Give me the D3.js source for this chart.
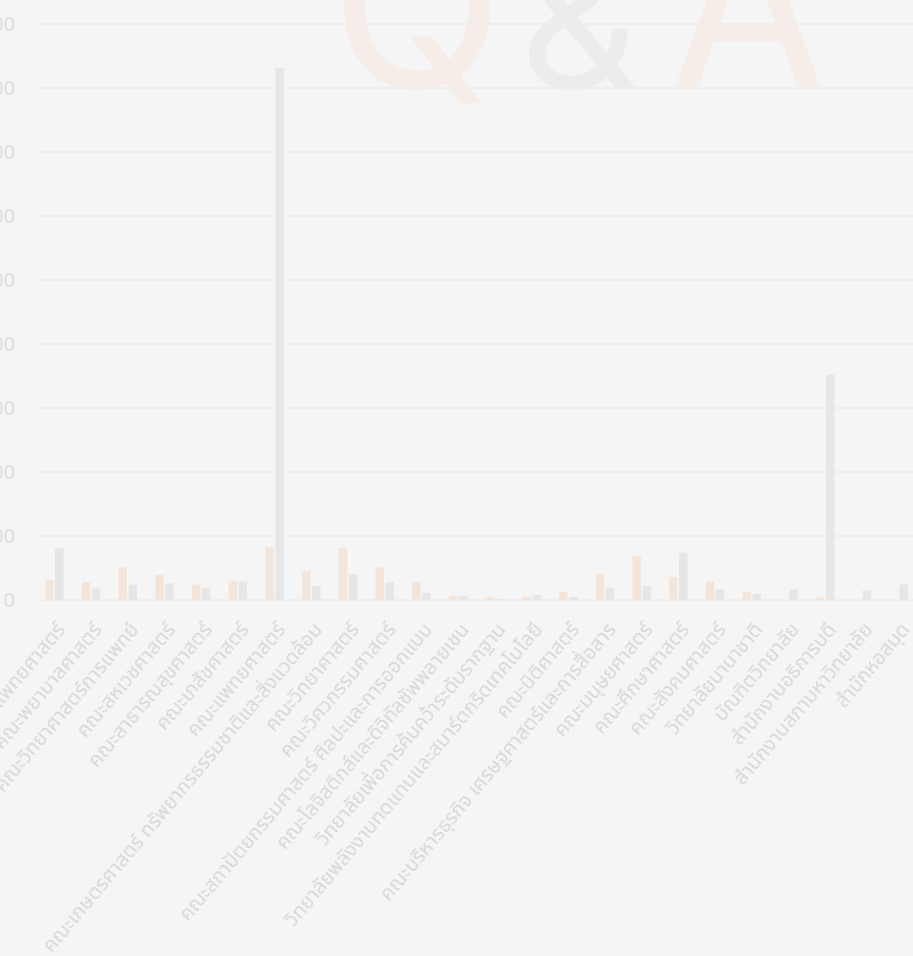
<!DOCTYPE html>
<meta charset="utf-8">
<html>
<style>
body { margin: 0; background: #f5f5f5; overflow: hidden; }
svg { display: block; }
.grid line { stroke: #eeeeee; stroke-width: 2px; }
.ylab { fill: #dedede; font: 20px "Noto Sans", "Open Sans", sans-serif; }
.xlab { fill: #dadada; font: 20px "Noto Sans", "Noto Sans Thai", sans-serif; }
</style>
<body>
<script src="https://cdn.jsdelivr.net/npm/d3@7"></script>
<script>

var width = 913, height = 956;

// faculties (Naresuan University)
var categories = [
  "คณะทันตแพทยศาสตร์", "คณะพยาบาลศาสตร์", "คณะวิทยาศาสตร์การแพทย์", "คณะสหเวชศาสตร์",
  "คณะสาธารณสุขศาสตร์", "คณะเภสัชศาสตร์", "คณะแพทยศาสตร์",
  "คณะเกษตรศาสตร์ ทรัพยากรธรรมชาติและสิ่งแวดล้อม", "คณะวิทยาศาสตร์", "คณะวิศวกรรมศาสตร์",
  "คณะสถาปัตยกรรมศาสตร์ ศิลปะและการออกแบบ", "คณะโลจิสติกส์และดิจิทัลซัพพลายเชน",
  "วิทยาลัยเพื่อการค้นคว้าระดับรากฐาน", "วิทยาลัยพลังงานทดแทนและสมาร์ตกริดเทคโนโลยี",
  "คณะนิติศาสตร์", "คณะบริหารธุรกิจ เศรษฐศาสตร์และการสื่อสาร", "คณะมนุษยศาสตร์",
  "คณะศึกษาศาสตร์", "คณะสังคมศาสตร์", "วิทยาลัยนานาชาติ", "บัณฑิตวิทยาลัย",
  "สำนักงานอธิการบดี", "สำนักงานสภามหาวิทยาลัย", "สำนักหอสมุด"
];
var series = ["a", "b"];
var valuesA = [31, 28, 51, 39, 24, 30, 83, 46, 81, 51, 29, 6, 4, 5, 13, 41, 69, 36, 29, 13, 0, 4, 0, 0];
var valuesB = [81, 18, 24, 26, 19, 29, 831, 22, 40, 28, 11, 6, 2, 8, 5, 19, 22, 74, 17, 9, 17, 352, 15, 24];
var yTicks = [0, 100, 200, 300, 400, 500, 600, 700, 800, 900];
var colors = ["#f3e5da", "#e6e6e6"];

var svg = d3.select("body").append("svg")
    .attr("width", width)
    .attr("height", height);

// watermark
var mark = svg.append("g").attr("font-family", "Inter, 'Noto Sans', sans-serif")
    .attr("text-anchor", "middle");
mark.append("text").attr("x", 417).attr("y", 88).attr("font-size", 225).attr("fill", "#f6ece8").text("Q");
mark.append("text").attr("x", 579).attr("y", 88).attr("font-size", 185).attr("fill", "#ececec").text("&");
mark.append("text").attr("x", 748).attr("y", 88).attr("font-size", 228).attr("fill", "#f6ece8").text("A");

var x0 = d3.scaleBand().domain(categories).range([36, 917]).paddingInner(0.5).paddingOuter(0.25);
var x1 = d3.scaleBand().domain(series).range([0, x0.bandwidth()]).paddingInner(0.15);
var y = d3.scaleLinear().domain([0, 900]).range([600, 24]);

// grid
svg.append("g").attr("class", "grid").selectAll("line")
    .data(yTicks).enter().append("line")
    .attr("x1", 36).attr("x2", width)
    .attr("y1", d => y(d)).attr("y2", d => y(d));

svg.append("g").selectAll("text")
    .data(yTicks).enter().append("text")
    .attr("class", "ylab")
    .attr("x", 15).attr("y", d => y(d)).attr("dy", "0.35em")
    .attr("text-anchor", "end")
    .text(d => d);

// bars
var groups = svg.append("g").selectAll("g")
    .data(categories).enter().append("g")
    .attr("transform", d => "translate(" + x0(d) + ",0)");

groups.selectAll("rect")
    .data((d, i) => [{k: "a", v: valuesA[i]}, {k: "b", v: valuesB[i]}])
    .enter().append("rect")
    .attr("x", d => x1(d.k))
    .attr("width", x1.bandwidth())
    .attr("y", d => y(d.v))
    .attr("height", d => y(0) - y(d.v))
    .attr("fill", (d, i) => colors[i]);

// x labels
svg.append("g").selectAll("text")
    .data(categories).enter().append("text")
    .attr("class", "xlab")
    .attr("text-anchor", "end")
    .attr("transform", d => "translate(" + (x0(d) + x0.bandwidth() / 2 + 1) + ",621) rotate(-50)")
    .attr("dy", "0.7em")
    .text(d => d);

</script>
</body>
</html>
